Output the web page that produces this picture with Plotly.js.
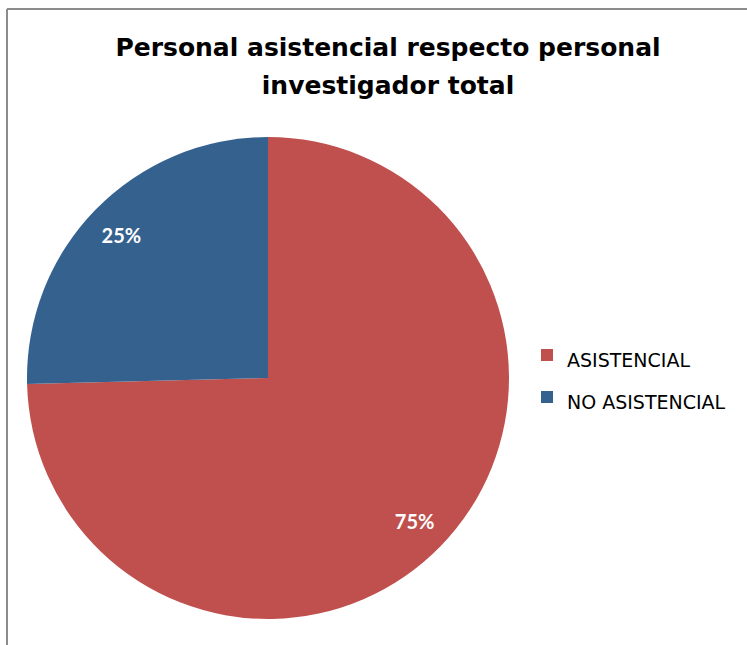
<!DOCTYPE html>
<html>
<head>
<meta charset="utf-8">
<script src="https://cdn.plot.ly/plotly-3.0.1.min.js"></script>
<style>html,body{margin:0;padding:0;background:#fff;}#chart{width:747px;height:645px;}</style>
</head>
<body>
<div id="chart"></div>
<script>
const categories = ["ASISTENCIAL", "NO ASISTENCIAL"];
const values = [74.6, 25.4];
const colors = ["#C0504D", "#35618F"];
const titleLines = ["Personal asistencial respecto personal", "investigador total"];

const W = 747, H = 645;
const pieDomain = {x: [27 / W, 509 / W], y: [1 - 619 / H, 1 - 137 / H]};

// visible pie (legend + slices)
const pieTrace = {
  type: "pie",
  labels: categories.map(c => "<span style='font-size:19px'>" + c + "</span>"),
  values: values,
  sort: false,
  direction: "clockwise",
  rotation: 0,
  marker: {colors: colors, line: {width: 0}},
  textinfo: "none",
  domain: pieDomain,
  hoverinfo: "skip"
};

// transparent ring on top, only used to place the percentage labels further out
const labelTrace = {
  type: "pie",
  labels: categories,
  values: values,
  sort: false,
  direction: "clockwise",
  rotation: 0,
  hole: 0.7,
  showlegend: false,
  marker: {colors: ["rgba(0,0,0,0)", "rgba(0,0,0,0)"], line: {width: 0}},
  textinfo: "percent",
  texttemplate: "%{percent:.0%}",
  textposition: "inside",
  insidetextorientation: "horizontal",
  textfont: {family: "Lato, 'DejaVu Sans', sans-serif", size: 20, color: "#ffffff", weight: "bold"},
  domain: pieDomain,
  hoverinfo: "skip"
};

const layout = {
  width: W, height: H,
  margin: {l: 0, r: 0, t: 0, b: 0},
  paper_bgcolor: "#ffffff",
  showlegend: true,
  title: {
    text: titleLines.map(t => "<b><span style='font-size:25px'>" + t + "</span></b>").join("<br>"),
    font: {family: "'DejaVu Sans', sans-serif", size: 29, color: "#000000"},
    x: 388 / W, xanchor: "center",
    y: 1 - 56 / H, yanchor: "top"
  },
  legend: {
    x: 527 / W, xanchor: "left",
    y: 1 - 329 / H, yanchor: "top",
    font: {family: "'DejaVu Sans', sans-serif", size: 30, color: "#000000"},
    itemwidth: 30,
    bgcolor: "rgba(0,0,0,0)"
  },
  shapes: [
    {type: "line", xref: "paper", yref: "paper", x0: 7 / W, x1: 7 / W, y0: -0.1, y1: 1 - 9 / H, line: {color: "#8c8c8c", width: 2}},
    {type: "line", xref: "paper", yref: "paper", x0: 7 / W, x1: 1.1, y0: 1 - 9 / H, y1: 1 - 9 / H, line: {color: "#8c8c8c", width: 2}}
  ]
};

Plotly.newPlot("chart", [pieTrace, labelTrace], layout, {displayModeBar: false, staticPlot: true});
</script>
</body>
</html>
